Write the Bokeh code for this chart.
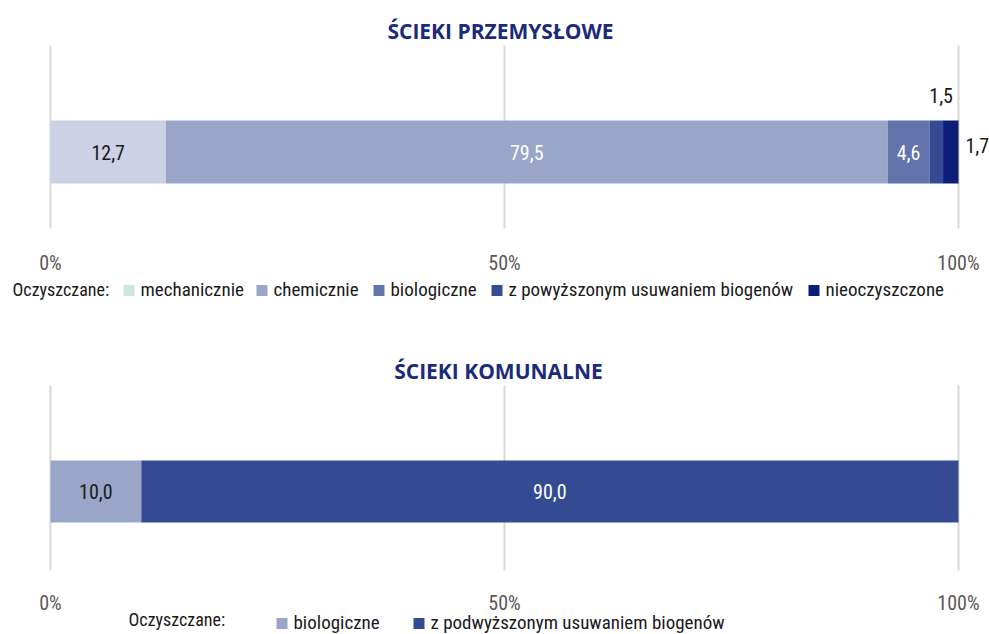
from bokeh.plotting import figure
from bokeh.models import Range1d, ColumnDataSource
from bokeh.layouts import column
from bokeh.embed import file_html
from bokeh.resources import INLINE
from bokeh.core.properties import value

# ---------------- data ----------------
ind_categories = ["mechanicznie", "chemicznie", "biologiczne",
                  "z powyższonym usuwaniem biogenów", "nieoczyszczone"]
ind_values = [12.7, 79.5, 4.6, 1.5, 1.7]
ind_labels = ["12,7", "79,5", "4,6", "1,5", "1,7"]

com_categories = ["biologiczne", "z podwyższonym usuwaniem biogenów"]
com_values = [10.0, 90.0]
com_labels = ["10,0", "90,0"]

tick_values = [0, 50, 100]
tick_labels = ["0%", "50%", "100%"]

title_top = "ŚCIEKI PRZEMYSŁOWE"
title_bottom = "ŚCIEKI KOMUNALNE"
legend_head = "Oczyszczane:"

# ---------------- styles ----------------
ind_bar_colors = ["#CCD1E5", "#99A6C8", "#6374AC", "#344A93", "#0B1F78"]
ind_legend_colors = ["#CDE6DA", "#99A6C8", "#6374AC", "#344A93", "#0B1F78"]
ind_text_colors = ["#1a1a1a", "#ffffff", "#ffffff", "#1a1a1a", "#1a1a1a"]
com_bar_colors = ["#99A6C8", "#344A93"]
com_text_colors = ["#1a1a1a", "#ffffff"]

FONT = "Roboto Condensed"
TFONT = "Open Sans"
W, H = 989, 317
X0, X1 = 50.0, 958.0          # pixel of 0% and 100%
SCALE = (X1 - X0) / 100.0


def px(x):
    return (x - X0) / SCALE


def make_fig():
    p = figure(width=W, height=H, output_backend="svg", toolbar_location=None,
               x_range=Range1d(px(0), px(W)), y_range=Range1d(H, 0),
               min_border=0, min_border_left=0, min_border_right=0,
               min_border_top=0, min_border_bottom=0)
    p.axis.visible = False
    p.grid.visible = False
    p.outline_line_color = None
    p.background_fill_color = "white"
    p.border_fill_color = "white"
    return p


def stacked(p, vals, colors, yc, h):
    left, right = [], []
    acc = 0.0
    for v in vals:
        left.append(acc)
        acc += v
        right.append(acc)
    src = ColumnDataSource(dict(left=left, right=right, y=[yc] * len(vals), c=colors))
    p.hbar(y="y", left="left", right="right", height=h, fill_color="c",
           line_color=None, source=src)
    return left, right


def grid_and_ticks(p, y0, y1, ty):
    for t in tick_values:
        p.segment(x0=t, x1=t, y0=y0, y1=y1, line_color="#D9D9D9", line_width=2)
    p.text(x=tick_values, y=[ty] * 3, text=tick_labels, text_align="center",
           text_baseline="middle", text_font=value(FONT), text_font_size="20px",
           text_color="#595959")


def title(p, txt, x, y):
    p.text(x=[px(x)], y=[y], text=[txt], text_align="center", text_baseline="middle",
           text_font=value(TFONT), text_font_style="bold",
           text_font_size="21px", text_color="#1B2A7A")


def legend(p, head_x, head_y, sw_x, colors, names, y):
    p.text(x=[px(head_x)], y=[head_y], text=[legend_head], text_align="left",
           text_baseline="middle", text_font=value(FONT), text_font_size="18px",
           text_color="#1a1a1a")
    for sx, c, n in zip(sw_x, colors, names):
        p.rect(x=[px(sx + 5.5)], y=[y + 1], width=11 / SCALE, height=11,
               fill_color=c, line_color=None)
        p.text(x=[px(sx + 17)], y=[y], text=[n], text_align="left",
               text_baseline="middle", text_font=value(FONT), text_font_size="19px",
               text_color="#1a1a1a")


# ---------------- top chart ----------------
p1 = make_fig()
grid_and_ticks(p1, 45, 228, 262)
title(p1, title_top, 500, 30)
left, right = stacked(p1, ind_values, ind_bar_colors, 151.5, 63)
mid = [(l + r) / 2 for l, r in zip(left, right)]
# inside labels
p1.text(x=mid[:3], y=[151.5] * 3, text=ind_labels[:3], text_align="center",
        text_baseline="middle", text_font=value(FONT), text_font_size="20px",
        text_color=ind_text_colors[:3])
# 1,5 above the bar
p1.text(x=[mid[3]], y=[95], text=[ind_labels[3]], text_align="left",
        text_baseline="middle", text_font=value(FONT), text_font_size="20px",
        text_color=ind_text_colors[3], x_offset=-7)
# 1,7 right of the bar
p1.text(x=[right[4]], y=[145], text=[ind_labels[4]], text_align="left",
        text_baseline="middle", text_font=value(FONT), text_font_size="20px",
        text_color=ind_text_colors[4], x_offset=7)
legend(p1, 12, 289, [123, 256, 373, 491, 808], ind_legend_colors, ind_categories, 289)

# ---------------- bottom chart ----------------
p2 = make_fig()
grid_and_ticks(p2, 68, 253, 285)
title(p2, title_bottom, 498, 53)
left2, right2 = stacked(p2, com_values, com_bar_colors, 174, 62)
mid2 = [(l + r) / 2 for l, r in zip(left2, right2)]
p2.text(x=mid2, y=[174] * 2, text=com_labels, text_align="center",
        text_baseline="middle", text_font=value(FONT), text_font_size="20px",
        text_color=com_text_colors)
legend(p2, 128, 302, [276, 413], com_bar_colors, com_categories, 305)

layout = column(p1, p2, spacing=0)
open("out.html", "w").write(file_html(layout, INLINE))
